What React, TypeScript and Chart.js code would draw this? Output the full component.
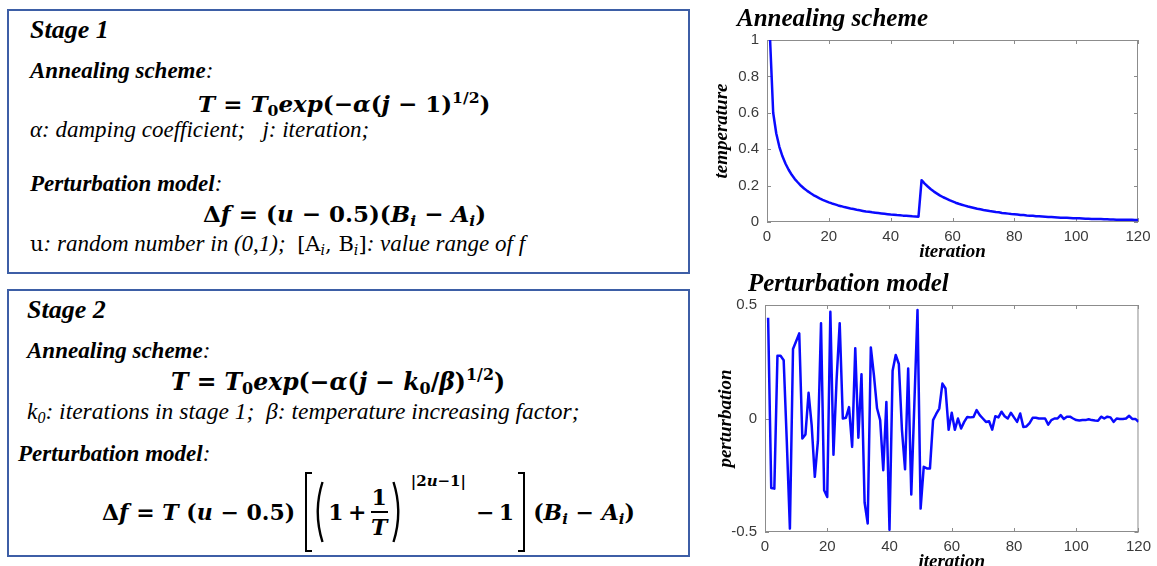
import React, { useEffect, useRef } from 'react';
import { Chart, registerables } from 'chart.js';

Chart.register(...registerables);

// ---------------- data ----------------
const iterations = [
  1, 2, 3, 4, 5, 6, 7, 8, 9, 10, 11, 12, 13, 14, 15, 16, 17, 18, 19, 20,
  21, 22, 23, 24, 25, 26, 27, 28, 29, 30, 31, 32, 33, 34, 35, 36, 37, 38, 39, 40,
  41, 42, 43, 44, 45, 46, 47, 48, 49, 50, 51, 52, 53, 54, 55, 56, 57, 58, 59, 60,
  61, 62, 63, 64, 65, 66, 67, 68, 69, 70, 71, 72, 73, 74, 75, 76, 77, 78, 79, 80,
  81, 82, 83, 84, 85, 86, 87, 88, 89, 90, 91, 92, 93, 94, 95, 96, 97, 98, 99, 100,
  101, 102, 103, 104, 105, 106, 107, 108, 109, 110, 111, 112, 113, 114, 115, 116, 117, 118, 119, 120,
];

const temperature = [
  1.0, 0.6, 0.486, 0.413, 0.361, 0.32, 0.287, 0.259, 0.236, 0.217,
  0.199, 0.184, 0.171, 0.159, 0.148, 0.139, 0.13, 0.122, 0.115, 0.108,
  0.102, 0.097, 0.091, 0.087, 0.082, 0.078, 0.074, 0.071, 0.067, 0.064,
  0.061, 0.058, 0.056, 0.053, 0.051, 0.049, 0.047, 0.045, 0.043, 0.041,
  0.04, 0.038, 0.037, 0.035, 0.034, 0.033, 0.031, 0.03, 0.029,
  0.23, 0.211, 0.195, 0.18, 0.167, 0.156, 0.145, 0.136, 0.128, 0.12,
  0.113, 0.106, 0.1, 0.095, 0.09, 0.085, 0.081, 0.077, 0.073, 0.07,
  0.066, 0.063, 0.06, 0.058, 0.055, 0.053, 0.05, 0.048, 0.046, 0.044,
  0.043, 0.041, 0.039, 0.038, 0.036, 0.035, 0.034, 0.032, 0.031, 0.03,
  0.029, 0.028, 0.027, 0.026, 0.025, 0.024, 0.023, 0.023, 0.022, 0.021,
  0.02, 0.02, 0.019, 0.018, 0.018, 0.017, 0.017, 0.016, 0.016, 0.015,
  0.015, 0.014, 0.014, 0.013, 0.013, 0.013, 0.012, 0.012, 0.012, 0.011,
  0.011,
];

const perturbation = [
  0.444, -0.306, -0.309, 0.276, 0.276, 0.257, -0.1, -0.485, 0.306, 0.34,
  0.375, -0.088, -0.07, 0.113, -0.03, -0.257, -0.1, 0.42, -0.316, -0.346,
  0.47, -0.16, 0.17, 0.42, 0.0, 0.003, 0.05, -0.125, 0.31, -0.085,
  0.195, -0.37, -0.463, 0.313, 0.19, 0.045, -0.007, -0.228, 0.073, -0.49,
  0.21, 0.28, 0.24, -0.05, -0.224, 0.22, -0.335, 0.07, 0.478, -0.397,
  -0.213, -0.22, -0.22, -0.007, 0.02, 0.044, 0.154, 0.132, -0.05, 0.025,
  -0.05, 0.0, -0.044, -0.015, 0.007, 0.005, 0.007, 0.037, 0.015, 0.0,
  -0.015, -0.012, -0.049, 0.01, 0.005, 0.03, 0.01, 0.0, 0.025, 0.005,
  -0.015, 0.022, -0.037, -0.035, -0.02, 0.003, 0.003, 0.0, 0.0, 0.0,
  -0.027, -0.007, 0.0, 0.0, 0.015, -0.002, 0.008, 0.008, 0.0, -0.007,
  -0.009, -0.007, -0.007, -0.003, -0.007, -0.009, -0.01, 0.008, 0.0, 0.008,
  0.005, -0.015, 0.0, -0.002, -0.002, 0.0, 0.012, -0.002, -0.002, -0.015,
];

const iterationTicks = [0, 20, 40, 60, 80, 100, 120];
const temperatureTicks = [0, 0.2, 0.4, 0.6, 0.8, 1];
const perturbationTicks = [-0.5, 0, 0.5];

// ---------------- plugins ----------------
const boxFrame = {
  id: 'boxFrame',
  beforeDatasetsDraw(chart: any, _args: any, opts: any) {
    const { ctx, chartArea: ca, scales } = chart;
    const len = opts.tickLength || 4;
    ctx.save();
    ctx.strokeStyle = opts.color || '#8a8a8a';
    ctx.lineWidth = 1;
    ctx.strokeRect(ca.left + 0.5, ca.top + 0.5, ca.right - ca.left - 1, ca.bottom - ca.top - 1);
    ctx.beginPath();
    scales.x.ticks.forEach((t: any) => {
      const p = Math.round(scales.x.getPixelForValue(t.value)) + 0.5;
      ctx.moveTo(p, ca.bottom);
      ctx.lineTo(p, ca.bottom - len);
      ctx.moveTo(p, ca.top);
      ctx.lineTo(p, ca.top + len);
    });
    scales.y.ticks.forEach((t: any) => {
      const p = Math.round(scales.y.getPixelForValue(t.value)) + 0.5;
      ctx.moveTo(ca.left, p);
      ctx.lineTo(ca.left + len, p);
      ctx.moveTo(ca.right, p);
      ctx.lineTo(ca.right - len, p);
    });
    ctx.stroke();
    ctx.restore();
  },
};

const panelTitle = {
  id: 'panelTitle',
  afterDraw(chart: any, _args: any, opts: any) {
    if (!opts || !opts.text) return;
    const { ctx } = chart;
    ctx.save();
    ctx.font = opts.font;
    ctx.fillStyle = '#000';
    ctx.textBaseline = 'alphabetic';
    ctx.textAlign = 'left';
    ctx.fillText(opts.text, opts.x, opts.y);
    ctx.restore();
  },
};

const serif = '"Liberation Serif", "Times New Roman", serif';
const sans = '"Liberation Sans", Arial, sans-serif';

function makeConfig(p: {
  values: number[];
  yTicks: number[];
  yTitle: string;
  yTitlePad: number;
  title: string;
  titleX: number;
  titleY: number;
  areaLeft: number;
  areaTop: number;
  padRight: number;
  xAxisHeight: number;
}) {
  return {
    type: 'line',
    data: {
      labels: iterations,
      datasets: [
        {
          data: p.values,
          borderColor: '#0a0aff',
          borderWidth: 2.5,
          pointRadius: 0,
          tension: 0,
          borderJoinStyle: 'round',
          fill: false,
        },
      ],
    },
    options: {
      animation: false,
      responsive: false,
      events: [],
      layout: { padding: { left: 0, right: p.padRight, top: p.areaTop, bottom: 0 } },
      plugins: {
        legend: { display: false },
        tooltip: { enabled: false },
        title: { display: false },
        boxFrame: { color: '#8c8c8c', tickLength: 4 },
        panelTitle: {
          text: p.title,
          x: p.titleX,
          y: p.titleY,
          font: `italic bold 25px ${serif}`,
        },
      },
      scales: {
        x: {
          type: 'linear',
          min: 0,
          max: 120,
          afterBuildTicks: (s: any) => {
            s.ticks = iterationTicks.map((v) => ({ value: v }));
          },
          afterFit: (s: any) => {
            s.height = p.xAxisHeight;
          },
          grid: { display: false, drawTicks: false },
          border: { display: false },
          ticks: {
            color: '#3a3a3a',
            font: { family: sans, size: 15 },
            padding: 6,
            maxRotation: 0,
            autoSkip: false,
            callback: (v: any) => String(v),
          },
          title: {
            display: true,
            text: 'iteration',
            color: '#000',
            font: { family: serif, size: 19, style: 'italic', weight: 'bold' },
            padding: { top: 0, bottom: 6.6 },
          },
        },
        y: {
          type: 'linear',
          min: p.yTicks[0],
          max: p.yTicks[p.yTicks.length - 1],
          afterBuildTicks: (s: any) => {
            s.ticks = p.yTicks.map((v) => ({ value: v }));
          },
          afterFit: (s: any) => {
            s.width = p.areaLeft;
          },
          grid: { display: false, drawTicks: false },
          border: { display: false },
          ticks: {
            color: '#3a3a3a',
            font: { family: sans, size: 15 },
            padding: 8,
            autoSkip: false,
            callback: (v: any) => String(v),
          },
          title: {
            display: true,
            text: p.yTitle,
            color: '#000',
            font: { family: serif, size: 19, style: 'italic', weight: 'bold' },
            padding: { top: p.yTitlePad, bottom: 0 },
          },
        },
      },
    },
    plugins: [boxFrame, panelTitle],
  };
}

function ChartCanvas(props: { left: number; top: number; width: number; height: number; config: any }) {
  const ref = useRef<HTMLCanvasElement>(null);
  useEffect(() => {
    const chart = new Chart(ref.current as HTMLCanvasElement, props.config);
    return () => chart.destroy();
  }, []);
  return (
    <canvas
      ref={ref}
      width={props.width}
      height={props.height}
      style={{ position: 'absolute', left: props.left, top: props.top, width: props.width, height: props.height }}
    />
  );
}

// ---------------- text helpers ----------------
const mathFont = '"DejaVu Serif", serif';

const I = ({ children }: { children: any }) => <span style={{ fontStyle: 'italic' }}>{children}</span>;
const Sub = ({ children }: { children: any }) => (
  <span style={{ fontSize: '0.68em', verticalAlign: '-0.28em', lineHeight: 0 }}>{children}</span>
);
const Sup = ({ children }: { children: any }) => (
  <span style={{ fontSize: '0.68em', verticalAlign: '0.6em', lineHeight: 0 }}>{children}</span>
);

const Heading = ({ left, top, size, children }: any) => (
  <div
    style={{
      position: 'absolute',
      left,
      top,
      fontFamily: serif,
      fontSize: size,
      lineHeight: 1,
      whiteSpace: 'pre',
      color: '#000',
    }}
  >
    {children}
  </div>
);

const Formula = ({ left, top, size, children }: any) => (
  <div
    style={{
      position: 'absolute',
      left,
      top,
      fontFamily: mathFont,
      fontWeight: 'bold',
      fontSize: size,
      lineHeight: 1,
      whiteSpace: 'pre',
      color: '#000',
    }}
  >
    {children}
  </div>
);

const Label = ({ text }: { text: string }) => (
  <>
    <span style={{ fontWeight: 'bold', fontStyle: 'italic' }}>{text}</span>
    <span style={{ fontStyle: 'italic' }}>:</span>
  </>
);

const boxStyle = (top: number, height: number): React.CSSProperties => ({
  position: 'absolute',
  left: 7,
  top,
  width: 683,
  height,
  border: '2px solid #3d5ea6',
  boxSizing: 'border-box',
});

const Paren = ({ flip, ml }: { flip?: boolean; ml?: number }) => (
  <svg
    width={11}
    height={64}
    style={{ display: 'block', marginLeft: ml || 0, transform: flip ? 'scaleX(-1)' : undefined }}
  >
    <path d="M9.5 2 Q0 32 9.5 62" stroke="#000" strokeWidth={2.4} fill="none" />
  </svg>
);

const Bracket = ({ right, ml }: { right?: boolean; ml?: number }) => (
  <div
    style={{
      width: 7,
      height: 80,
      marginLeft: ml || 0,
      boxSizing: 'border-box',
      borderTop: '2px solid #000',
      borderBottom: '2px solid #000',
      borderLeft: right ? undefined : '2.5px solid #000',
      borderRight: right ? '2.5px solid #000' : undefined,
    }}
  />
);

export default function App() {
  const topConfig = makeConfig({
    values: temperature,
    yTicks: temperatureTicks,
    yTitle: 'temperature',
    yTitlePad: 10.6,
    title: 'Annealing scheme',
    titleX: 37,
    titleY: 26,
    areaLeft: 67,
    areaTop: 40,
    padRight: 19,
    xAxisHeight: 48,
  });
  const bottomConfig = makeConfig({
    values: perturbation,
    yTicks: perturbationTicks,
    yTitle: 'perturbation',
    yTitlePad: 14.6,
    title: 'Perturbation model',
    titleX: 48,
    titleY: 21,
    areaLeft: 65,
    areaTop: 35,
    padRight: 11,
    xAxisHeight: 48,
  });

  return (
    <div
      style={{
        position: 'absolute',
        left: 0,
        top: 0,
        width: 1157,
        height: 566,
        overflow: 'hidden',
        background: '#fff',
      }}
    >
      {/* Stage 1 box */}
      <div style={boxStyle(9, 265)} />
      <Heading left={30} top={17} size={26}>
        <span style={{ fontWeight: 'bold', fontStyle: 'italic' }}>Stage 1</span>
      </Heading>
      <Heading left={30} top={59} size={23}>
        <Label text="Annealing scheme" />
      </Heading>
      <Formula left={198} top={91.5} size={23}>
        <I>T</I> = <I>T</I>
        <Sub>0</Sub>
        <I>exp</I>(−<I>α</I>(<I>j</I> − 1)<Sup>1/2</Sup>)
      </Formula>
      <Heading left={30} top={118} size={23}>
        <span style={{ fontStyle: 'italic' }}>{'α: damping coefficient;   j: iteration;'}</span>
      </Heading>
      <Heading left={30} top={172} size={23}>
        <Label text="Perturbation model" />
      </Heading>
      <Formula left={203} top={201.5} size={23}>
        Δ<I>f</I> = (<I>u</I> − 0.5)(<I>B</I>
        <Sub>
          <I>i</I>
        </Sub>{' '}
        − <I>A</I>
        <Sub>
          <I>i</I>
        </Sub>
        )
      </Formula>
      <Heading left={30} top={232} size={23}>
        <span style={{ fontFamily: mathFont, fontSize: 21 }}>u</span>
        <span style={{ fontStyle: 'italic' }}>{': random number in (0,1);  '}</span>
        <span style={{ fontFamily: mathFont, fontSize: 21 }}>
          [A<Sub><I>i</I></Sub>, B<Sub><I>i</I></Sub>]
        </span>
        <span style={{ fontStyle: 'italic' }}>{': value range of f'}</span>
      </Heading>

      {/* Stage 2 box */}
      <div style={boxStyle(289, 268)} />
      <Heading left={27} top={297} size={26}>
        <span style={{ fontWeight: 'bold', fontStyle: 'italic' }}>Stage 2</span>
      </Heading>
      <Heading left={27} top={339} size={23}>
        <Label text="Annealing scheme" />
      </Heading>
      <Formula left={171} top={371} size={23.5}>
        <I>T</I> = <I>T</I>
        <Sub>0</Sub>
        <I>exp</I>(−<I>α</I>(<I>j</I> − <I>k</I>
        <Sub>0</Sub>/<I>β</I>)<Sup>1/2</Sup>)
      </Formula>
      <Heading left={27} top={400} size={23.5}>
        <span style={{ fontStyle: 'italic' }}>
          k<Sub>0</Sub>
          {': iterations in stage 1;  β: temperature increasing factor;'}
        </span>
      </Heading>
      <Heading left={18} top={442} size={23}>
        <Label text="Perturbation model" />
      </Heading>
      <div
        style={{
          position: 'absolute',
          left: 102,
          top: 471,
          height: 82,
          display: 'flex',
          alignItems: 'center',
          fontFamily: mathFont,
          fontWeight: 'bold',
          fontSize: 22,
          lineHeight: 1,
          whiteSpace: 'pre',
          color: '#000',
        }}
      >
        <span>
          Δ<I>f</I> = <I>T</I> (<I>u</I> − 0.5)
        </span>
        <Bracket ml={10} />
        <Paren ml={1} />
        <span style={{ marginLeft: 4 }}>{'1\u2009+\u2009'}</span>
        <span style={{ display: 'inline-flex', flexDirection: 'column', alignItems: 'center' }}>
          <span>1</span>
          <span style={{ borderTop: '2px solid #000', width: 17, margin: '3px 0' }} />
          <I>T</I>
        </span>
        <Paren flip ml={4} />
        <span style={{ alignSelf: 'flex-start', fontSize: 15, marginTop: 3, marginLeft: 8 }}>
          |2<I>u</I>−1|
        </span>
        <span style={{ marginLeft: 10 }}>{'−\u20091'}</span>
        <Bracket right ml={4} />
        <span style={{ marginLeft: 8 }}>
          (<I>B</I>
          <Sub>
            <I>i</I>
          </Sub>{' '}
          − <I>A</I>
          <Sub>
            <I>i</I>
          </Sub>
          )
        </span>
      </div>

      {/* charts */}
      <ChartCanvas left={700} top={0} width={457} height={270} config={topConfig} />
      <ChartCanvas left={700} top={270} width={457} height={310} config={bottomConfig} />
    </div>
  );
}
